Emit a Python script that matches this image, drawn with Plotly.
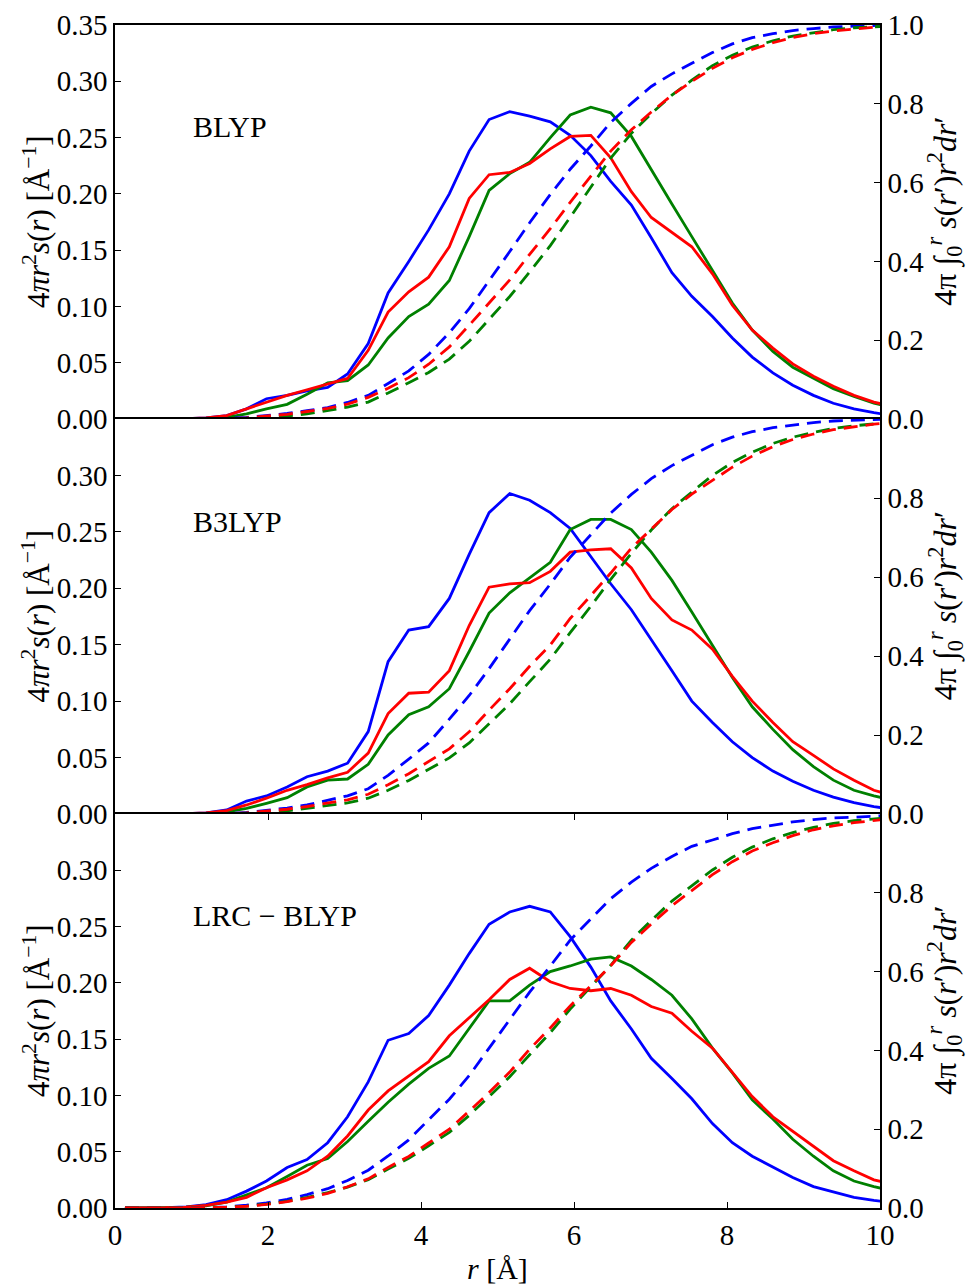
import plotly.graph_objects as go

# radial grid (Angstrom)
r = [0.13, 0.40, 0.66, 0.93, 1.19, 1.46, 1.72, 1.98, 2.25, 2.51, 2.78, 3.04, 3.31,
     3.57, 3.84, 4.10, 4.37, 4.63, 4.89, 5.16, 5.42, 5.69, 5.95, 6.22, 6.48, 6.75,
     7.01, 7.28, 7.54, 7.81, 8.07, 8.33, 8.60, 8.86, 9.13, 9.39, 9.66, 9.92, 10.19]

# ---- BLYP ----
blyp_blue = [0, 0, 0, 0.0003, 0.001, 0.003, 0.009, 0.018, 0.021, 0.025, 0.028, 0.040, 0.067,
             0.112, 0.140, 0.168, 0.200, 0.238, 0.266, 0.273, 0.269, 0.264, 0.252, 0.234, 0.211,
             0.190, 0.161, 0.130, 0.109, 0.091, 0.072, 0.055, 0.041, 0.030, 0.021, 0.014, 0.009,
             0.0056, 0.003]
blyp_red = [0, 0, 0, 0.0003, 0.001, 0.003, 0.009, 0.015, 0.021, 0.026, 0.031, 0.036, 0.061,
            0.095, 0.113, 0.126, 0.153, 0.196, 0.217, 0.219, 0.227, 0.240, 0.251, 0.252, 0.232,
            0.202, 0.179, 0.166, 0.153, 0.129, 0.101, 0.079, 0.063, 0.049, 0.038, 0.029, 0.021,
            0.015, 0.011]
blyp_green = [0, 0, 0, 0.0002, 0.0005, 0.0015, 0.0045, 0.009, 0.013, 0.022, 0.032, 0.034, 0.048,
              0.072, 0.091, 0.102, 0.123, 0.162, 0.203, 0.218, 0.228, 0.250, 0.270, 0.277, 0.272,
              0.251, 0.221, 0.191, 0.162, 0.132, 0.103, 0.079, 0.060, 0.046, 0.036, 0.027, 0.020,
              0.014, 0.010]
blyp_blue_cum = [0, 0, 0, 0, 0.0005, 0.0015, 0.004, 0.009, 0.014, 0.021, 0.029, 0.042, 0.060,
                 0.090, 0.122, 0.164, 0.219, 0.280, 0.350, 0.425, 0.498, 0.570, 0.634, 0.693,
                 0.753, 0.801, 0.844, 0.876, 0.903, 0.930, 0.952, 0.968, 0.978, 0.986, 0.991,
                 0.995, 0.997, 0.999, 1.0]
blyp_red_cum = [0, 0, 0, 0, 0.0003, 0.001, 0.003, 0.007, 0.012, 0.019, 0.027, 0.038, 0.055,
                0.078, 0.105, 0.139, 0.183, 0.238, 0.295, 0.353, 0.418, 0.483, 0.550, 0.615,
                0.680, 0.734, 0.779, 0.822, 0.857, 0.890, 0.917, 0.938, 0.955, 0.968, 0.978,
                0.985, 0.990, 0.994, 0.997]
blyp_green_cum = [0, 0, 0, 0, 0.0001, 0.0005, 0.0017, 0.004, 0.0075, 0.013, 0.021, 0.030, 0.043,
                  0.066, 0.092, 0.118, 0.152, 0.197, 0.253, 0.311, 0.373, 0.440, 0.512, 0.587,
                  0.662, 0.725, 0.775, 0.822, 0.860, 0.897, 0.923, 0.944, 0.960, 0.972, 0.981,
                  0.988, 0.993, 0.996, 0.998]

# ---- B3LYP ----
b3lyp_blue = [0, 0, 0, 0.0003, 0.001, 0.0036, 0.0115, 0.016, 0.024, 0.033, 0.038, 0.045, 0.073,
              0.135, 0.163, 0.166, 0.191, 0.230, 0.267, 0.284, 0.278, 0.267, 0.253, 0.228, 0.204,
              0.181, 0.155, 0.127, 0.100, 0.081, 0.064, 0.050, 0.038, 0.029, 0.021, 0.015, 0.010,
              0.0065, 0.004]
b3lyp_red = [0, 0, 0, 0.0003, 0.001, 0.003, 0.008, 0.014, 0.021, 0.026, 0.032, 0.037, 0.054,
             0.089, 0.107, 0.108, 0.127, 0.167, 0.201, 0.204, 0.205, 0.215, 0.232, 0.234, 0.235,
             0.218, 0.191, 0.172, 0.163, 0.146, 0.122, 0.100, 0.081, 0.064, 0.052, 0.040, 0.030,
             0.021, 0.016]
b3lyp_green = [0, 0, 0, 0.0002, 0.0005, 0.002, 0.005, 0.0095, 0.0145, 0.024, 0.030, 0.031, 0.044,
               0.070, 0.088, 0.095, 0.111, 0.144, 0.178, 0.196, 0.209, 0.223, 0.252, 0.261, 0.261,
               0.252, 0.232, 0.207, 0.179, 0.150, 0.121, 0.095, 0.075, 0.057, 0.042, 0.030, 0.021,
               0.016, 0.012]
b3lyp_blue_cum = [0, 0, 0, 0, 0.0003, 0.0012, 0.004, 0.0085, 0.015, 0.023, 0.034, 0.046, 0.064,
                  0.098, 0.139, 0.180, 0.240, 0.300, 0.368, 0.444, 0.515, 0.582, 0.650, 0.707,
                  0.762, 0.809, 0.849, 0.882, 0.909, 0.935, 0.954, 0.968, 0.978, 0.985, 0.991,
                  0.995, 0.997, 0.999, 1.0]
b3lyp_red_cum = [0, 0, 0, 0, 0.0003, 0.001, 0.003, 0.007, 0.012, 0.019, 0.027, 0.036, 0.050,
                 0.074, 0.102, 0.132, 0.165, 0.208, 0.263, 0.317, 0.374, 0.428, 0.495, 0.553,
                 0.610, 0.673, 0.720, 0.771, 0.810, 0.845, 0.878, 0.906, 0.930, 0.948, 0.962,
                 0.973, 0.981, 0.987, 0.991]
b3lyp_green_cum = [0, 0, 0, 0, 0.0001, 0.0005, 0.002, 0.004, 0.008, 0.014, 0.022, 0.028, 0.040,
                   0.060, 0.085, 0.112, 0.142, 0.180, 0.229, 0.279, 0.335, 0.392, 0.459, 0.526,
                   0.594, 0.660, 0.719, 0.773, 0.815, 0.857, 0.890, 0.916, 0.938, 0.954, 0.966,
                   0.976, 0.983, 0.988, 0.992]

# ---- LRC-BLYP ----
lrc_blue = [0, 0, 0.0002, 0.001, 0.003, 0.0074, 0.015, 0.024, 0.036, 0.043, 0.058, 0.081, 0.112,
            0.149, 0.155, 0.171, 0.198, 0.226, 0.252, 0.263, 0.268, 0.263, 0.241, 0.214, 0.184,
            0.159, 0.133, 0.115, 0.097, 0.075, 0.058, 0.046, 0.036, 0.027, 0.019, 0.014, 0.0095,
            0.0068, 0.0045]
lrc_red = [0, 0, 0.0002, 0.0008, 0.0024, 0.0053, 0.0095, 0.018, 0.025, 0.033, 0.046, 0.064, 0.087,
           0.104, 0.117, 0.130, 0.153, 0.169, 0.185, 0.203, 0.213, 0.201, 0.195, 0.193, 0.195,
           0.189, 0.179, 0.173, 0.157, 0.142, 0.121, 0.099, 0.081, 0.068, 0.055, 0.042, 0.033,
           0.025, 0.021]
lrc_green = [0, 0, 0.0002, 0.0007, 0.002, 0.0053, 0.012, 0.018, 0.028, 0.038, 0.044, 0.059, 0.077,
             0.094, 0.110, 0.124, 0.135, 0.160, 0.184, 0.184, 0.198, 0.210, 0.215, 0.221, 0.223,
             0.215, 0.203, 0.189, 0.168, 0.142, 0.120, 0.096, 0.079, 0.061, 0.046, 0.033, 0.024,
             0.019, 0.015]
lrc_blue_cum = [0, 0, 0, 0.0003, 0.001, 0.003, 0.007, 0.013, 0.022, 0.034, 0.049, 0.070, 0.096,
                0.132, 0.173, 0.224, 0.276, 0.336, 0.405, 0.476, 0.548, 0.614, 0.680, 0.734,
                0.785, 0.827, 0.862, 0.892, 0.918, 0.934, 0.950, 0.963, 0.972, 0.980, 0.986,
                0.990, 0.992, 0.995, 0.997]
lrc_red_cum = [0, 0, 0, 0.0002, 0.0006, 0.002, 0.0045, 0.009, 0.016, 0.025, 0.037, 0.054, 0.074,
               0.103, 0.131, 0.165, 0.200, 0.246, 0.293, 0.345, 0.403, 0.457, 0.513, 0.564,
               0.615, 0.674, 0.721, 0.767, 0.806, 0.846, 0.879, 0.906, 0.927, 0.945, 0.960,
               0.970, 0.978, 0.984, 0.989]
lrc_green_cum = [0, 0, 0, 0.0002, 0.0005, 0.002, 0.005, 0.010, 0.017, 0.027, 0.039, 0.053, 0.072,
                 0.099, 0.126, 0.158, 0.192, 0.235, 0.283, 0.333, 0.389, 0.445, 0.505, 0.561,
                 0.616, 0.680, 0.730, 0.779, 0.818, 0.858, 0.890, 0.916, 0.937, 0.953, 0.966,
                 0.976, 0.983, 0.988, 0.992]

panel_names = ["BLYP", "B3LYP", "LRC \u2212 BLYP"]
left_ticks = [[0, 0.05, 0.10, 0.15, 0.20, 0.25, 0.30, 0.35],
              [0, 0.05, 0.10, 0.15, 0.20, 0.25, 0.30],
              [0, 0.05, 0.10, 0.15, 0.20, 0.25, 0.30]]
right_ticks = [[0, 0.2, 0.4, 0.6, 0.8, 1.0],
               [0, 0.2, 0.4, 0.6, 0.8],
               [0, 0.2, 0.4, 0.6, 0.8]]
x_ticks = [0, 2, 4, 6, 8, 10]

panels = [
    (blyp_blue, blyp_green, blyp_red, blyp_blue_cum, blyp_green_cum, blyp_red_cum),
    (b3lyp_blue, b3lyp_green, b3lyp_red, b3lyp_blue_cum, b3lyp_green_cum, b3lyp_red_cum),
    (lrc_blue, lrc_green, lrc_red, lrc_blue_cum, lrc_green_cum, lrc_red_cum),
]
colors = ["#0000ff", "#008000", "#ff0000"]

W, H = 967, 1288
x_dom = [115 / W, 880 / W]
pix = [(25, 419), (419, 814), (814, 1208)]
y_doms = [[1 - b / H, 1 - t / H] for t, b in pix]

FONT = "Liberation Serif"
TICKSIZE = 29
fig = go.Figure()
layout = dict(
    width=W, height=H, margin=dict(l=0, r=0, t=0, b=0, autoexpand=False),
    paper_bgcolor="white", plot_bgcolor="white", showlegend=False,
    font=dict(family=FONT, size=TICKSIZE, color="black"), hovermode=False,
)

annotations = []
for p in range(3):
    xa = "x" if p == 0 else f"x{p + 1}"
    yl = "y" if p == 0 else f"y{2 * p + 1}"
    yr = f"y{2 * p + 2}"
    data = panels[p]
    for i in range(3):
        fig.add_trace(go.Scatter(x=r, y=data[i], mode="lines", xaxis=xa, yaxis=yl,
                                 line=dict(color=colors[i], width=2.8)))
    for i in range(3):
        fig.add_trace(go.Scatter(x=r, y=data[3 + i], mode="lines", xaxis=xa, yaxis=yr,
                                 line=dict(color=colors[i], width=2.8, dash="14px,8px")))

    xkey = "xaxis" if p == 0 else f"xaxis{p + 1}"
    ylkey = "yaxis" if p == 0 else f"yaxis{2 * p + 1}"
    yrkey = f"yaxis{2 * p + 2}"
    last = (p == 2)
    if last:
        layout[xkey] = dict(
            domain=x_dom, anchor=yl, side="bottom", range=[0, 10], showgrid=False,
            zeroline=False, showline=True, linecolor="black", linewidth=1.5,
            mirror="ticks", ticks="inside", ticklen=6, tickwidth=1, tickcolor="black",
            tickvals=x_ticks, ticktext=[str(v) for v in x_ticks], automargin=False,
            showticklabels=True, tickfont=dict(family=FONT, size=TICKSIZE),
        )
    else:
        layout[xkey] = dict(
            domain=x_dom, anchor=yl, side="top", range=[0, 10], showgrid=False,
            zeroline=False, showline=True, linecolor="black", linewidth=1.5,
            mirror=False, ticks="", showticklabels=False, automargin=False,
        )
    layout[ylkey] = dict(
        domain=y_doms[p], anchor=xa, range=[0, 0.35], showgrid=False, zeroline=False,
        showline=True, linecolor="black", linewidth=1.5, side="left",
        ticks="inside", ticklen=6, tickwidth=1, tickcolor="black", automargin=False,
        tickvals=left_ticks[p], ticktext=[f"{v:.2f}" for v in left_ticks[p]],
        tickfont=dict(family=FONT, size=TICKSIZE),
    )
    layout[yrkey] = dict(
        overlaying=yl, anchor=xa, side="right", range=[0, 1.0], showgrid=False,
        zeroline=False, showline=True, linecolor="black", linewidth=1.5,
        ticks="inside", ticklen=6, tickwidth=1, tickcolor="black", automargin=False,
        tickvals=right_ticks[p], ticktext=[f"{v:.1f}" for v in right_ticks[p]],
        tickfont=dict(family=FONT, size=TICKSIZE),
    )
    ymid = (y_doms[p][0] + y_doms[p][1]) / 2
    annotations.append(dict(
        x=36 / W, y=ymid, xref="paper", yref="paper", textangle=-90,
        text="4<i>πr</i><sup>2</sup><i>s</i>(<i>r</i>) [Å<sup>−1</sup>]",
        showarrow=False, xanchor="center", yanchor="middle",
        font=dict(family=FONT, size=31)))
    annotations.append(dict(
        x=945 / W, y=ymid + 0.008, xref="paper", yref="paper", textangle=-90,
        text="4π ∫<sub>0</sub><sup><i>r</i></sup> <i>s</i>(<i>r</i>′)<i>r</i><sup>2</sup><i>dr</i>′",
        showarrow=False, xanchor="center", yanchor="middle",
        font=dict(family=FONT, size=32)))
    annotations.append(dict(
        x=191 / W, y=y_doms[p][1] - 102 / H, xref="paper", yref="paper",
        text=panel_names[p], showarrow=False, xanchor="left", yanchor="middle",
        font=dict(family=FONT, size=30)))

annotations.append(dict(
    x=497 / W, y=1 - 1268 / H, xref="paper", yref="paper",
    text="<i>r</i> [Å]", showarrow=False, xanchor="center", yanchor="middle",
    font=dict(family=FONT, size=30)))

layout["annotations"] = annotations
fig.update_layout(**layout)
fig.write_html("out.html")
